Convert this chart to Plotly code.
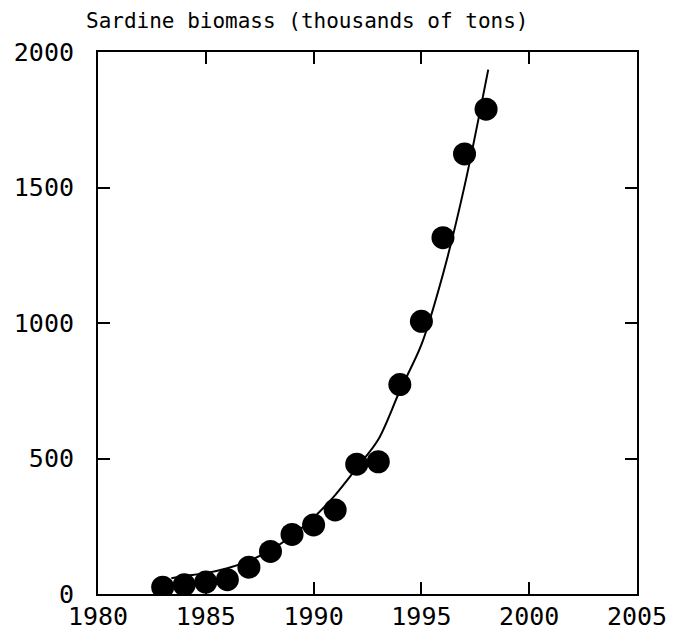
import plotly.graph_objects as go

# Observed sardine biomass (thousands of tons)
years = [1983, 1984, 1985, 1986, 1987, 1988, 1989, 1990, 1991,
         1992, 1993, 1994, 1995, 1996, 1997, 1998]
biomass = [25, 34, 44, 53, 99, 157, 220, 255, 310,
           479, 488, 773, 1006, 1315, 1624, 1789]

# Fitted curve
fit_years = [1983.4, 1984, 1985, 1986, 1987, 1988, 1989, 1990, 1991,
             1992, 1993, 1994, 1995, 1996, 1997, 1998.1]
fit_values = [58, 66, 77, 95, 122, 162, 215, 282, 365,
              465, 570, 750, 920, 1180, 1505, 1935]

x_ticks = [1980, 1985, 1990, 1995, 2000, 2005]
y_ticks = [0, 500, 1000, 1500, 2000]
title_text = "Sardine biomass (thousands of tons)"

FONT = "DejaVu Sans Mono"

fig = go.Figure()
fig.add_trace(go.Scatter(
    x=fit_years, y=fit_values, mode="lines",
    line=dict(color="black", width=2, shape="spline", smoothing=0.9),
    showlegend=False, hoverinfo="skip"))
fig.add_trace(go.Scatter(
    x=years, y=biomass, mode="markers",
    marker=dict(color="black", size=23, line=dict(width=0)),
    showlegend=False))

axis_common = dict(
    showgrid=False, zeroline=False, showline=True, linecolor="black",
    linewidth=2, mirror="ticks", ticks="inside", ticklen=12, tickwidth=2,
    tickcolor="black", automargin=False,
    tickfont=dict(family=FONT, size=25, color="black"))

fig.update_xaxes(range=[1980, 2005], tickvals=x_ticks,
                 ticktext=[str(v) for v in x_ticks],
                 ticklabelstandoff=-1, **axis_common)
fig.update_yaxes(range=[0, 2000], tickvals=y_ticks,
                 ticktext=[str(v) for v in y_ticks],
                 ticklabelstandoff=17, **axis_common)

fig.add_annotation(text=title_text, xref="paper", yref="paper",
                   x=0.388, y=1.057, xanchor="center", yanchor="middle",
                   showarrow=False,
                   font=dict(family=FONT, size=21, color="black"))

fig.update_layout(
    width=673, height=631,
    margin=dict(l=98, r=36, t=52, b=37, autoexpand=False),
    paper_bgcolor="white", plot_bgcolor="white",
    font=dict(family=FONT, color="black"))

fig.write_html("out.html")
